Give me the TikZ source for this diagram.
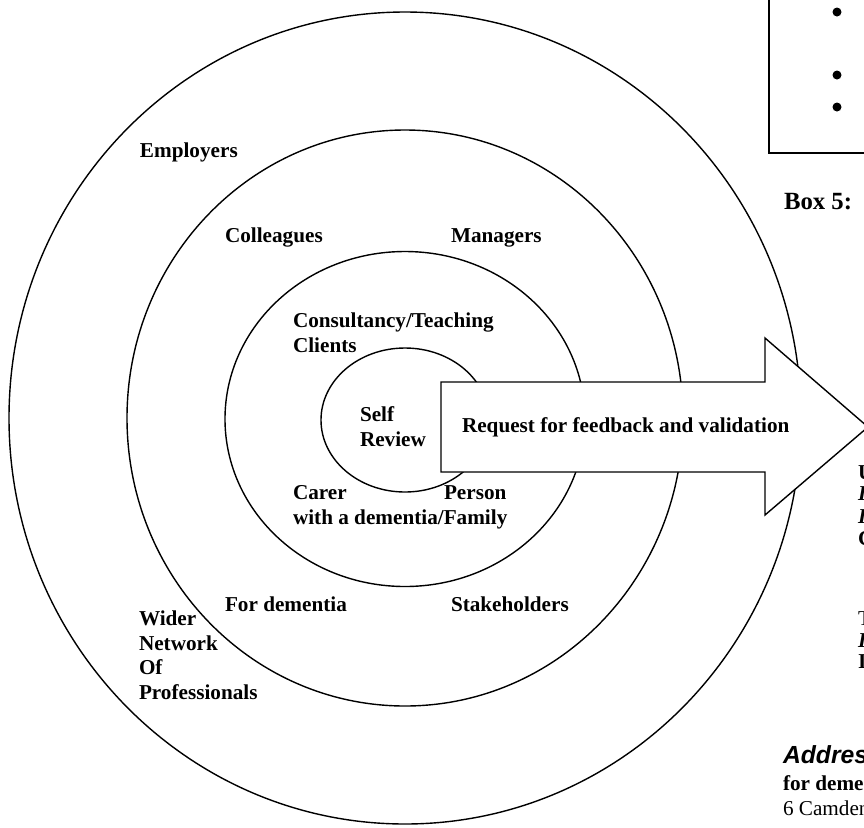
\documentclass[tikz,border=0pt]{standalone}
\usepackage{fontspec}
\setmainfont{Liberation Serif}
\newfontfamily\sansfam{Liberation Sans}
\begin{document}
\begin{tikzpicture}[x=0.5pt,y=-0.5pt,
  ring/.style={draw=black, line width=0.7pt},
  lbl/.style={anchor=base west, inner sep=0pt, outer sep=0pt, font=\fontsize{10.6}{12.5}\selectfont\bfseries},
  lblit/.style={lbl, font=\fontsize{10.6}{12.5}\selectfont\bfseries\itshape},
  plain/.style={lbl, font=\fontsize{10.6}{12.5}\selectfont},
  bighead/.style={lbl, font=\fontsize{12.37}{14.5}\selectfont\bfseries},
  bigsans/.style={lbl, font=\fontsize{12.37}{14.5}\selectfont\sansfam\bfseries\itshape},
  bullet/.style={circle, fill=black, inner sep=0pt, minimum size=4.5pt}]
\useasboundingbox (0,0) rectangle (864,827);
\clip (0,0) rectangle (864,827);
% concentric rings
\draw[ring] (405,418) ellipse [x radius=198pt, y radius=203pt];
\draw[ring] (405,418) ellipse [x radius=139pt, y radius=144pt];
\draw[ring] (405,419) ellipse [x radius=90pt, y radius=83.75pt];
\draw[ring] (405,420) ellipse [x radius=42pt, y radius=36pt];
% arrow
\draw[ring, fill=white, line join=miter]
  (441,382) -- (765,382) -- (765,338) -- (868,427) -- (765,515) -- (765,472) -- (441,472) -- cycle;
\node[lbl] (req) at (462,432) {Request for feedback and validation};
% ring labels
\node[lbl] (employers) at (140,157) {Employers};
\node[lbl] (colleagues) at (225,242) {Colleagues};
\node[lbl] (managers) at (451,242) {Managers};
\node[lbl] (consult) at (293,327) {Consultancy/Teaching};
\node[lbl] (clients) at (293,352) {Clients};
\node[lbl] (self) at (360,421) {Self};
\node[lbl] (review) at (360,446) {Review};
\node[lbl] (carer) at (293,499) {Carer};
\node[lbl] (person) at (444,499) {Person};
\node[lbl] (withdem) at (293,524) {with a dementia/Family};
\node[lbl] (fordem) at (225,611) {For dementia};
\node[lbl] (stake) at (451,611) {Stakeholders};
\node[lbl] (wider) at (139,625) {Wider};
\node[lbl] (network) at (139,650) {Network};
\node[lbl] (of) at (139,674) {Of};
\node[lbl] (prof) at (139,699) {Professionals};
% box at top right
\draw[line width=1pt] (769,-10) -- (769,153) -- (880,153);
\node[bullet] (b1) at (837,12) {};
\node[bullet] (b2) at (837,75) {};
\node[bullet] (b3) at (837,107) {};
\node[bighead] (box5) at (784,209) {Box 5:};
% cut-off text on the right
\node[lbl] (r1) at (858,479) {U};
\node[lblit] (r2) at (858,500) {I};
\node[lblit] (r3) at (858,523) {I};
\node[lbl] (r4) at (858,545) {C};
\node[plain] (r5) at (858,625) {T};
\node[lblit] (r6) at (858,647) {I};
\node[lbl] (r7) at (858,668) {I};
\node[bigsans] (addr) at (783,763) {Address};
\node[lbl] (fordem2) at (783,790) {for dementia};
\node[plain] (camden) at (783,815) {6 Camden};
\end{tikzpicture}
\end{document}
